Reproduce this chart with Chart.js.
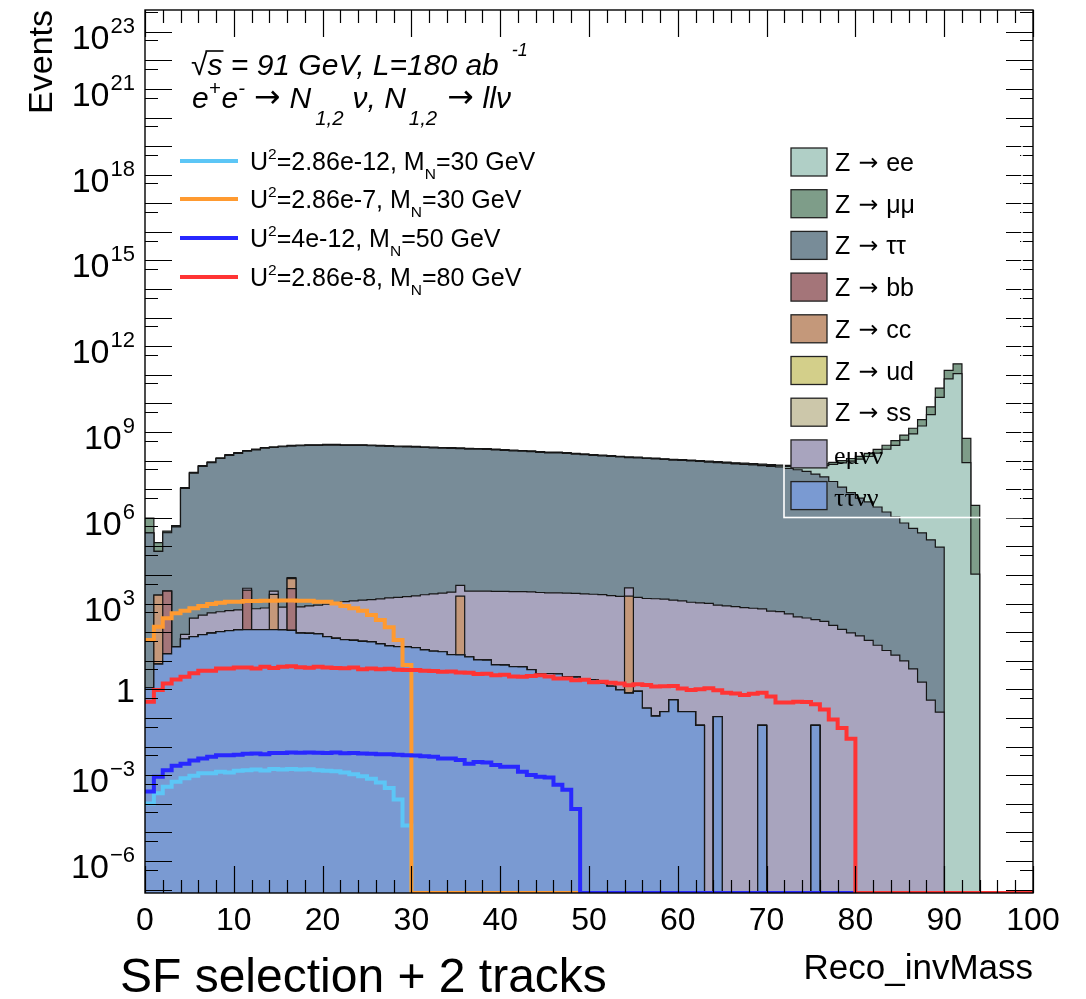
<!DOCTYPE html>
<html>
<head>
<meta charset="utf-8">
<script src="https://cdn.jsdelivr.net/npm/chart.js@4.4.1/dist/chart.umd.min.js"></script>
<style>
  html, body { margin: 0; padding: 0; background: #ffffff; }
  canvas { display: block; }
</style>
</head>
<body>
<canvas id="c" width="1086" height="999"></canvas>
<script>
// ---- binning and axis ranges -------------------------------------------
const nBins = 100;
const xLow = 0;
const xHigh = 100;
const yAxisMin = 7.6e-8;
const yAxisMax = 5.75e23;
const xTickLabels = [0, 10, 20, 30, 40, 50, 60, 70, 80, 90, 100];
const yTickExponents = [-6, -3, 0, 3, 6, 9, 12, 15, 18, 21, 23];

// ---- background processes: events per 1 GeV bin (stacked, bottom -> top) ----
const tautaununu = [
  1.16, 7.7, 17.4, 30.7, 58.9, 70.6, 83, 93, 104.6, 114.5,
  120, 123, 123, 123, 123, 120, 117, 93, 91, 87,
  70.6, 61.4, 54.8, 52.3, 48.1, 45.7, 39, 33.2, 31.5, 30.7,
  29, 24.1, 21.6, 20.8, 16.6, 16.2, 13.8, 10.7, 10.5, 7.2,
  7.1, 6.3, 6.1, 4.9, 3.6, 3.6, 3.5, 2.8, 2.7, 2.2,
  2.2, 1.66, 1.29, 0.97, 0.74, 0.85, 0.22, 0.116, 0.166, 0.43,
  0.166, 0.166, 0.055, 0, 0.112, 0, 0, 0, 0, 0.055,
  0, 0, 0, 0, 0, 0.055, 0, 0, 0, 0,
  0, 0, 0, 0, 0, 0, 0, 0, 0, 0,
  0, 0, 0, 0, 0, 0, 0, 0, 0, 0
];
const zss = [
  0, 0, 0, 0, 0, 0, 0, 0, 0, 0,  0, 0, 0, 0, 0, 0, 0, 0, 0, 0,
  0, 0, 0, 0, 0, 0, 0, 0, 0, 0,  0, 0, 0, 0, 0, 0, 0, 0, 0, 0,
  0, 0, 0, 0, 0, 0, 0, 0, 0, 0,  0, 0, 0, 0, 0, 0, 0, 0, 0, 0,
  0, 0, 0, 0, 0, 0, 0, 0, 0, 0,  0, 0, 0, 0, 0, 0, 0, 0, 0, 0,
  0, 0, 0, 0, 0, 0, 0, 0, 0, 0,  0, 0, 0, 0, 0, 0, 0, 0, 0, 0
];
const zud = [
  0, 0, 0, 0, 0, 0, 0, 0, 0, 0,  0, 0, 0, 0, 0, 0, 0, 0, 0, 0,
  0, 0, 0, 0, 0, 0, 0, 0, 0, 0,  0, 0, 0, 0, 0, 0, 0, 0, 0, 0,
  0, 0, 0, 0, 0, 0, 0, 0, 0, 0,  0, 0, 0, 0, 0, 0, 0, 0, 0, 0,
  0, 0, 0, 0, 0, 0, 0, 0, 0, 0,  0, 0, 0, 0, 0, 0, 0, 0, 0, 0,
  0, 0, 0, 0, 0, 0, 0, 0, 0, 0,  0, 0, 0, 0, 0, 0, 0, 0, 0, 0
];
const zbb = [
  0, 0, 2740, 0, 0, 0, 0, 0, 0, 0,
  0, 2820, 0, 0, 0, 0, 3240, 0, 0, 0,
  0, 0, 0, 0, 0, 0, 0, 0, 0, 0,  0, 0, 0, 0, 0, 0, 0, 0, 0, 0,
  0, 0, 0, 0, 0, 0, 0, 0, 0, 0,  0, 0, 0, 0, 0, 0, 0, 0, 0, 0,
  0, 0, 0, 0, 0, 0, 0, 0, 0, 0,  0, 0, 0, 0, 0, 0, 0, 0, 0, 0,
  0, 0, 0, 0, 0, 0, 0, 0, 0, 0,  0, 0, 0, 0, 0, 0, 0, 0, 0, 0
];
const zcc = [
  0, 1990, 0, 0, 0, 0, 0, 0, 0, 0,
  0, 0, 0, 0, 1990, 0, 4150, 0, 0, 0,
  0, 0, 0, 0, 0, 0, 0, 0, 0, 0,
  0, 0, 0, 0, 0, 1800, 0, 0, 0, 0,
  0, 0, 0, 0, 0, 0, 0, 0, 0, 0,
  0, 0, 0, 0, 1830, 0, 0, 0, 0, 0,
  0, 0, 0, 0, 0, 0, 0, 0, 0, 0,  0, 0, 0, 0, 0, 0, 0, 0, 0, 0,
  0, 0, 0, 0, 0, 0, 0, 0, 0, 0,  0, 0, 0, 0, 0, 0, 0, 0, 0, 0
];
const emununu = [
  0, 0, 0, 0, 25.7, 241, 315, 382, 415, 456,
  481, 506, 540, 581, 614, 639, 656, 681, 739, 805,
  880, 988, 1120, 1200, 1270, 1330, 1440, 1550, 1630, 1740,
  1830, 2020, 2160, 2320, 2490, 2550, 2730, 2740, 2740, 2680,
  2680, 2610, 2610, 2560, 2450, 2390, 2390, 2340, 2280, 2180,
  2130, 2080, 1900, 1780, 1730, 1660, 1510, 1480, 1440, 1320,
  1250, 1120, 1070, 1020, 888, 830, 789, 722, 689, 656,
  548, 523, 436, 346, 315, 274, 241, 173, 125, 95,
  74, 52, 35, 23, 15.8, 10, 5.2, 1.8, 0.42, 0.16,
  0, 0, 0, 0, 0, 0, 0, 0, 0, 0
];
const ztautau = [
  2.98e5, 6.5e4, 2.98e5, 4.8e5, 1.07e7, 3.66e7, 6.3e7, 8.5e7, 1.19e8, 1.53e8,
  1.79e8, 2.13e8, 2.38e8, 2.72e8, 2.89e8, 3.06e8, 3.23e8, 3.32e8, 3.4e8, 3.4e8,
  3.49e8, 3.49e8, 3.4e8, 3.4e8, 3.4e8, 3.32e8, 3.23e8, 3.15e8, 3.06e8, 3.02e8,
  2.98e8, 2.89e8, 2.81e8, 2.72e8, 2.69e8, 2.64e8, 2.55e8, 2.51e8, 2.47e8, 2.38e8,
  2.3e8, 2.21e8, 2.13e8, 2.08e8, 1.96e8, 1.87e8, 1.87e8, 1.79e8, 1.7e8, 1.62e8,
  1.53e8, 1.48e8, 1.41e8, 1.34e8, 1.28e8, 1.26e8, 1.19e8, 1.15e8, 1.1e8, 1.05e8,
  1.02e8, 9.8e7, 9.4e7, 8.9e7, 8.5e7, 8.1e7, 7.7e7, 7.4e7, 7.1e7, 6.7e7,
  6.3e7, 6.0e7, 5.4e7, 4.8e7, 4.25e7, 3.4e7, 2.7e7, 1.87e7, 1.19e7, 7.6e6,
  4.9e6, 3.6e6, 2.4e6, 1.6e6, 1.07e6, 6.6e5, 4.3e5, 3.0e5, 1.7e5, 9.4e4,
  0, 0, 0, 0, 0, 0, 0, 0, 0, 0
];
const zee = [
  0, 0, 0, 0, 0, 0, 0, 0, 0, 0,  0, 0, 0, 0, 0, 0, 0, 0, 0, 0,
  0, 0, 0, 0, 0, 0, 0, 0, 0, 0,  0, 0, 0, 0, 0, 0, 0, 0, 0, 0,
  0, 0, 0, 0, 0, 0, 0, 0, 0, 0,  0, 0, 0, 0, 0, 0, 0, 0, 0, 0,
  1.29e6, 1.46e6, 1.72e6, 1.98e6, 2.24e6, 2.58e6, 2.92e6, 3.35e6, 3.78e6, 4.3e6,
  5.0e6, 5.7e6, 9.5e6, 1.38e7, 1.89e7, 2.92e7, 4.04e7, 5.6e7, 7.2e7, 8.9e7,
  1.08e8, 1.36e8, 1.81e8, 2.49e8, 3.44e8, 5.2e8, 8.6e8, 1.63e9, 4.1e9, 1.63e10,
  7.2e10, 1.1e11, 8.6e7, 1.08e4, 0, 0, 0, 0, 0, 0
];
const zmumu = [
  6.9e5, 6.9e4, 4.3e4, 6.0e4, 6.5e5, 2.24e6, 3.8e6, 5.2e6, 7.2e6, 9.5e6,
  1.12e7, 1.29e7, 1.46e7, 1.63e7, 1.72e7, 1.89e7, 1.98e7, 1.98e7, 2.06e7, 2.06e7,
  2.15e7, 2.15e7, 2.06e7, 2.06e7, 2.06e7, 1.98e7, 1.98e7, 1.89e7, 1.89e7, 1.81e7,
  1.81e7, 1.72e7, 1.72e7, 1.63e7, 1.63e7, 1.63e7, 1.55e7, 1.55e7, 1.46e7, 1.46e7,
  1.38e7, 1.38e7, 1.29e7, 1.29e7, 1.2e7, 1.12e7, 1.12e7, 1.12e7, 1.03e7, 9.5e6,
  9.5e6, 8.6e6, 8.6e6, 8.2e6, 7.7e6, 7.7e6, 7.2e6, 7.0e6, 6.7e6, 6.4e6,
  6.2e6, 5.9e6, 5.7e6, 5.4e6, 5.2e6, 4.9e6, 4.7e6, 4.5e6, 4.3e6, 4.0e6,
  4.3e6, 4.7e6, 5.2e6, 5.7e6, 6.2e6, 7.7e6, 1.03e7, 1.29e7, 1.63e7, 2.24e7,
  2.92e7, 4.04e7, 6.4e7, 9.5e7, 1.55e8, 2.67e8, 5.0e8, 1.08e9, 3.5e9, 1.81e10,
  7.1e10, 1.33e11, 5.2e8, 2.7e6, 0, 0, 0, 0, 0, 0
];

// ---- heavy neutral lepton signals (not stacked) -------------------------
const sigU286e12M30 = [
  1.03e-4, 2.33e-4, 3.95e-4, 5.85e-4, 7.9e-4, 9.5e-4, 1.17e-3, 1.17e-3, 1.31e-3, 1.25e-3,
  1.44e-3, 1.5e-3, 1.58e-3, 1.47e-3, 1.66e-3, 1.58e-3, 1.66e-3, 1.58e-3, 1.62e-3, 1.5e-3,
  1.44e-3, 1.37e-3, 1.25e-3, 1.09e-3, 9.2e-4, 7.5e-4, 5.6e-4, 3.6e-4, 1.42e-4, 1.74e-5,
  0, 0, 0, 0, 0, 0, 0, 0, 0, 0,  0, 0, 0, 0, 0, 0, 0, 0, 0, 0,
  0, 0, 0, 0, 0, 0, 0, 0, 0, 0,  0, 0, 0, 0, 0, 0, 0, 0, 0, 0,
  0, 0, 0, 0, 0, 0, 0, 0, 0, 0,  0, 0, 0, 0, 0, 0, 0, 0, 0, 0,
  0, 0, 0, 0, 0, 0, 0, 0, 0, 0
];
const sigU286e7M30 = [
  54, 154, 309, 457, 561, 691, 830, 975, 1070, 1170,
  1170, 1230, 1230, 1250, 1250, 1290, 1290, 1250, 1250, 1170,
  1170, 1020, 830, 691, 561, 398, 269, 148, 54, 7.2,
  0, 0, 0, 0, 0, 0, 0, 0, 0, 0,  0, 0, 0, 0, 0, 0, 0, 0, 0, 0,
  0, 0, 0, 0, 0, 0, 0, 0, 0, 0,  0, 0, 0, 0, 0, 0, 0, 0, 0, 0,
  0, 0, 0, 0, 0, 0, 0, 0, 0, 0,  0, 0, 0, 0, 0, 0, 0, 0, 0, 0,
  0, 0, 0, 0, 0, 0, 0, 0, 0, 0
];
const sigU4e12M50 = [
  2.7e-4, 8.8e-4, 1.5e-3, 2.13e-3, 2.53e-3, 3.24e-3, 3.87e-3, 4.42e-3, 4.98e-3, 4.98e-3,
  5.21e-3, 5.61e-3, 5.69e-3, 5.45e-3, 6.0e-3, 6.0e-3, 6.24e-3, 6.16e-3, 6.24e-3, 6.16e-3,
  6.0e-3, 6.24e-3, 5.85e-3, 6.0e-3, 5.69e-3, 5.61e-3, 5.45e-3, 5.37e-3, 5.21e-3, 4.98e-3,
  4.9e-3, 4.58e-3, 4.42e-3, 3.87e-3, 3.87e-3, 3.4e-3, 2.53e-3, 2.92e-3, 2.77e-3, 2.29e-3,
  1.98e-3, 1.98e-3, 1.31e-3, 1.02e-3, 8.8e-4, 8.3e-4, 4.6e-4, 3.1e-4, 6.6e-5, 0,
  0, 0, 0, 0, 0, 0, 0, 0, 0, 0,  0, 0, 0, 0, 0, 0, 0, 0, 0, 0,
  0, 0, 0, 0, 0, 0, 0, 0, 0, 0,  0, 0, 0, 0, 0, 0, 0, 0, 0, 0,
  0, 0, 0, 0, 0, 0, 0, 0, 0, 0
];
const sigU286e8M80 = [
  0.37, 0.95, 1.62, 2.23, 2.75, 3.65, 4.46, 4.46, 5.35, 5.35,
  5.83, 5.83, 5.35, 6.16, 5.59, 6.16, 6.4, 6.0, 5.75, 6.16,
  5.83, 5.59, 5.5, 5.83, 5.1, 5.35, 5.1, 5.27, 4.86, 4.78,
  4.78, 4.54, 4.37, 4.13, 4.21, 3.89, 3.81, 3.48, 3.56, 3.16,
  3.24, 2.84, 2.75, 2.92, 3.16, 2.84, 2.43, 2.39, 2.11, 2.19,
  1.78, 1.86, 1.7, 1.62, 1.41, 1.51, 1.44, 1.26, 1.28, 1.31,
  1.07, 0.95, 1.02, 1.09, 0.93, 0.77, 0.72, 0.64, 0.7, 0.77,
  0.56, 0.35, 0.35, 0.37, 0.36, 0.3, 0.2, 0.089, 0.045, 0.019,
  0, 0, 0, 0, 0, 0, 0, 0, 0, 0,
  0, 0, 0, 0, 0, 0, 0, 0, 0, 0
];

// ---- legend texts --------------------------------------------------------
const backgroundFinalStates = ['ee', '\u03bc\u03bc', '\u03c4\u03c4', 'bb', 'cc', 'ud', 'ss'];
const fourBodyLabels = ['e\u03bc\u03bd\u03bd', '\u03c4\u03c4\u03bd\u03bd'];
const signalCouplings = ['2.86e-12', '2.86e-7', '4e-12', '2.86e-8'];
const signalMasses = ['30', '30', '50', '80'];

// ---- styling -------------------------------------------------------------
const SANS = "'Liberation Sans', Arial, Helvetica, sans-serif";
const SERIF = "'Liberation Serif', 'Times New Roman', serif";
const ARROW = "'DejaVu Sans', sans-serif";
const fillColors = {
  zee: '#b0cfc6', zmumu: '#7e9d89', ztautau: '#788c98', zbb: '#a47579', zcc: '#c4987a',
  zud: '#d3cf8a', zss: '#ccc7aa', emununu: '#a8a4be', tautaununu: '#7a9ad2'
};
const signalColors = ['#5cc6f6', '#ff9a30', '#2828ff', '#ff3434'];

// stack order from bottom to top
const stackOrder = [
  ['tautaununu', tautaununu], ['zss', zss], ['zud', zud], ['zbb', zbb], ['zcc', zcc],
  ['emununu', emununu], ['ztautau', ztautau], ['zee', zee], ['zmumu', zmumu]
];

const binWidth = (xHigh - xLow) / nBins;

// step-histogram points: one point per bin low edge plus the closing upper edge;
// empty bins sit on the lower frame edge as in a log-scale histogram
function histPoints(values) {
  const pts = values.map((v, i) => ({ x: xLow + i * binWidth, y: Math.max(v, yAxisMin) }));
  pts.push({ x: xHigh, y: Math.max(values[values.length - 1], yAxisMin) });
  return pts;
}

const datasets = [];
const running = new Array(nBins).fill(0);
stackOrder.forEach(([key, values], k) => {
  for (let i = 0; i < nBins; i++) running[i] += values[i];
  datasets.push({
    label: key,
    data: histPoints(running.slice()),
    stepped: true,
    fill: 'start',
    backgroundColor: fillColors[key],
    borderColor: '#161616',
    borderWidth: 1.2,
    borderJoinStyle: 'miter',
    pointRadius: 0,
    order: 10 + k
  });
});
[sigU286e12M30, sigU286e7M30, sigU4e12M50, sigU286e8M80].forEach((values, k) => {
  datasets.push({
    label: 'signal' + k,
    data: histPoints(values),
    stepped: true,
    fill: false,
    borderColor: signalColors[k],
    borderWidth: 4,
    borderJoinStyle: 'miter',
    borderCapStyle: 'butt',
    pointRadius: 0,
    order: 3 - k
  });
});

// ---- text helpers --------------------------------------------------------
function drawParts(ctx, x, y, parts, size, style, family) {
  let cx = x;
  for (const p of parts) {
    let s = size * (p.rel || 1), dy = 0;
    if (p.k === 'sup') { s = size * (p.scale || 0.68); dy = -size * (p.rise || 0.42); }
    if (p.k === 'sub') { s = size * (p.scale || 0.68); dy = size * (p.drop || 0.3); }
    ctx.font = `${p.style || style} ${s}px ${p.family || family}`;
    ctx.fillText(p.t, cx, y + dy + (p.shift || 0));
    const w = ctx.measureText(p.t).width;
    if (p.over) {
      ctx.save();
      ctx.lineWidth = 1.6;
      ctx.beginPath();
      ctx.moveTo(cx - 2, y - size * 0.8);
      ctx.lineTo(cx + w + 1, y - size * 0.8);
      ctx.stroke();
      ctx.restore();
    }
    cx += w + (p.gap || 0);
  }
  return cx;
}

// ---- axes, labels and legends drawn on top of the histograms -------------
const rootDecor = {
  id: 'rootDecor',
  afterDraw(chart) {
    const { ctx, chartArea: a } = chart;
    const xs = chart.scales.x, ys = chart.scales.y;
    ctx.save();
    ctx.fillStyle = '#000';
    ctx.strokeStyle = '#000';

    // tick marks (inside the frame, on all four sides)
    ctx.lineWidth = 1.2;
    ctx.beginPath();
    for (let v = xLow; v <= xHigh + 1e-9; v += 2) {
      const px = Math.round(xs.getPixelForValue(v)) + 0.5;
      const len = (Math.round(v) % 10 === 0) ? 27 : 13;
      ctx.moveTo(px, a.bottom); ctx.lineTo(px, a.bottom - len);
      ctx.moveTo(px, a.top); ctx.lineTo(px, a.top + len);
    }
    for (let e = -8; e <= 24; e++) {
      for (const [f, len] of [[1, 27], [0.5, 13]]) {
        const val = f * Math.pow(10, e);
        if (val < ys.min || val > ys.max) continue;
        const py = Math.round(ys.getPixelForValue(val)) + 0.5;
        ctx.moveTo(a.left, py); ctx.lineTo(a.left + len, py);
        ctx.moveTo(a.right, py); ctx.lineTo(a.right - len, py);
      }
    }
    ctx.stroke();

    // frame
    ctx.lineWidth = 1.4;
    ctx.strokeRect(a.left, a.top, a.right - a.left, a.bottom - a.top);

    // x tick labels
    ctx.textBaseline = 'alphabetic';
    ctx.textAlign = 'center';
    ctx.font = `32px ${SANS}`;
    xTickLabels.forEach(v => ctx.fillText(String(v), xs.getPixelForValue(v), 930));

    // y tick labels: 10^n, with "1" for n = 0
    ctx.textAlign = 'left';
    const labelRight = 135;
    yTickExponents.forEach(n => {
      const py = ys.getPixelForValue(Math.pow(10, n));
      if (n === 0) {
        ctx.font = `34px ${SANS}`;
        const w = ctx.measureText('1').width;
        ctx.fillText('1', labelRight - w, py + 13);
        return;
      }
      const expStr = n < 0 ? '\u2212' + Math.abs(n) : String(n);
      ctx.font = `22px ${SANS}`;
      const ew = ctx.measureText(expStr).width;
      ctx.font = `34px ${SANS}`;
      const bw = ctx.measureText('10').width;
      ctx.fillText('10', labelRight - ew - bw - 1, py + 17);
      ctx.font = `22px ${SANS}`;
      ctx.fillText(expStr, labelRight - ew, py + 1);
    });

    // axis titles
    ctx.font = `35px ${SANS}`;
    ctx.textAlign = 'right';
    ctx.fillText('Reco_invMass', a.right, 979);
    ctx.save();
    ctx.translate(52, a.top);
    ctx.rotate(-Math.PI / 2);
    ctx.font = `34px ${SANS}`;
    ctx.textAlign = 'right';
    ctx.fillText('Events', 0, 0);
    ctx.restore();
    ctx.textAlign = 'left';
    ctx.font = `48px ${SANS}`;
    ctx.fillText('SF selection + 2 tracks', 120, 992);

    // process description
    drawParts(ctx, 191, 75, [
      { t: '\u221a', style: 'normal', gap: 0 },
      { t: 's', over: true },
      { t: ' = 91 GeV, L=180 ab', gap: 13 },
      { t: '-1', k: 'sup', rise: 0.62, scale: 0.6 }
    ], 30, 'italic', SANS);
    const arrow = { t: '\u2192', style: 'normal', family: ARROW, rel: 1.05, shift: -1 };
    drawParts(ctx, 192, 108, [
      { t: 'e' }, { t: '+', k: 'sup', gap: 1 }, { t: 'e' }, { t: '-', k: 'sup', gap: 9 },
      Object.assign({ gap: 9 }, arrow), { t: 'N', gap: 4 }, { t: '1,2', k: 'sub', drop: 0.55, gap: 9 },
      { t: '\u03bd, N', gap: 3 }, { t: '1,2', k: 'sub', drop: 0.55, gap: 10 },
      Object.assign({ gap: 9 }, arrow), { t: 'll\u03bd' }
    ], 30, 'italic', SANS);

    // signal legend
    const sigRows = [161, 199, 238, 277];
    sigRows.forEach((yy, k) => {
      ctx.save();
      ctx.strokeStyle = signalColors[k];
      ctx.lineWidth = 4;
      ctx.beginPath();
      ctx.moveTo(180, yy); ctx.lineTo(238, yy);
      ctx.stroke();
      ctx.restore();
      drawParts(ctx, 250, yy + 9, [
        { t: 'U' }, { t: '2', k: 'sup', rise: 0.45, scale: 0.62 },
        { t: '=' + signalCouplings[k] + ', M' }, { t: 'N', k: 'sub', drop: 0.35, scale: 0.62 },
        { t: '=' + signalMasses[k] + ' GeV' }
      ], 25, 'normal', SANS);
    });

    // background legend (transparent box with a white border)
    ctx.save();
    ctx.strokeStyle = '#ffffff';
    ctx.lineWidth = 1.6;
    ctx.strokeRect(784, 128, 238, 389.5);
    ctx.restore();
    const keys = ['zee', 'zmumu', 'ztautau', 'zbb', 'zcc', 'zud', 'zss', 'emununu', 'tautaununu'];
    keys.forEach((key, k) => {
      const top = 148 + k * 41.7;
      ctx.fillStyle = fillColors[key];
      ctx.fillRect(791, top, 36, 28);
      ctx.strokeStyle = '#222';
      ctx.lineWidth = 1.3;
      ctx.strokeRect(791, top, 36, 28);
      ctx.fillStyle = '#000';
      ctx.textAlign = 'left';
      if (k < 7) {
        drawParts(ctx, 835, top + 23, [
          { t: 'Z', gap: 8 },
          { t: '\u2192', family: ARROW, rel: 0.95, gap: 8, shift: -1 },
          { t: backgroundFinalStates[k] }
        ], 25, 'normal', SANS);
      } else {
        ctx.font = `26px ${SERIF}`;
        ctx.fillText(fourBodyLabels[k - 7], 834, top + 24);
      }
    });
    ctx.restore();
  }
};

new Chart(document.getElementById('c'), {
  type: 'line',
  data: { datasets },
  options: {
    responsive: false,
    animation: false,
    devicePixelRatio: 1,
    events: [],
    layout: { padding: { left: 145, right: 53, top: 10, bottom: 106 } },
    scales: {
      x: { type: 'linear', min: xLow, max: xHigh, display: false },
      y: { type: 'logarithmic', min: yAxisMin, max: yAxisMax, display: false }
    },
    plugins: { legend: { display: false }, tooltip: { enabled: false } },
    elements: { point: { radius: 0 }, line: { tension: 0 } }
  },
  plugins: [rootDecor]
});
</script>
</body>
</html>
